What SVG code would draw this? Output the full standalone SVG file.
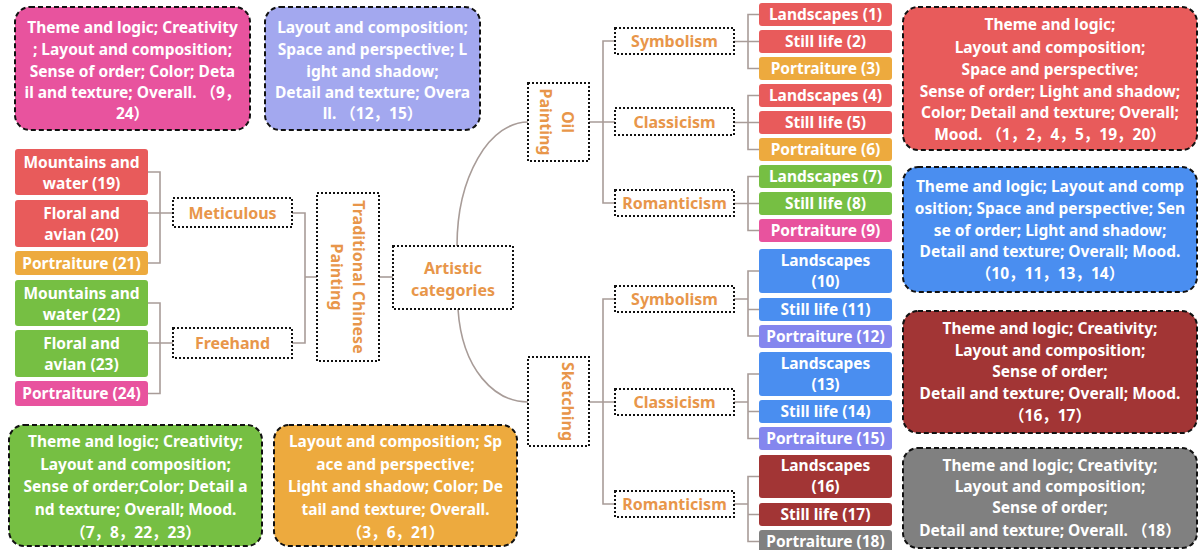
<svg xmlns="http://www.w3.org/2000/svg" width="1198" height="550" viewBox="0 0 1198 550">
<style>
text{font-family:"Noto Sans","Noto Sans CJK SC",sans-serif;font-weight:bold;text-anchor:middle}
.leaf text{fill:#fff;font-size:15.5px}
.box text{fill:#fff;font-size:15.5px}
.lbl text{fill:#E8964A;font-size:16px}
.lbl rect{fill:#fff;stroke:#111;stroke-width:2;stroke-dasharray:2 2}
.box rect{stroke:#111;stroke-width:2;stroke-dasharray:5 3}
.con path{fill:none;stroke:#A89C98;stroke-width:1.6}
.r{fill:#E85B5B}.o{fill:#EDAA3E}.g{fill:#76BF43}.p{fill:#E8539E}.b{fill:#4A8EF0}.v{fill:#8486EE}.d{fill:#A23535}.y{fill:#808080}
</style>
<g class="con">
<path d="M148,172H160V263H148M148,213H173"/>
<path d="M148,303H160V393.5H148M148,343H173"/>
<path d="M292,213H305V343H292M305,277H317"/>
<path d="M379,277H393"/>
<path d="M457,246A71,124 0 0 1 528,122"/>
<path d="M458,309C462,370 495,402 528,402"/>
<path d="M589,122H603M615,41H603V203H615M603,122H615"/>
<path d="M589,402H603M615,299H603V504H615M603,402H615"/>
<path d="M734,41.5H759M759,14.5H748V68.5H759"/>
<path d="M734,122.5H759M759,95.5H748V149.5H759"/>
<path d="M734,203.5H759M759,176.5H748V230.5H759"/>
<path d="M734,299H748M759,271H748V336H759M748,309.5H759"/>
<path d="M734,402H748M759,374H748V438.5H759M748,411.5H759"/>
<path d="M734,504H748M759,476.5H748V541.5H759M748,514.5H759"/>
</g>
<g id="artistic" class="lbl"><rect x="393" y="246" width="120" height="63"/><text x="453" y="274">Artistic</text><text x="453" y="296">categories</text></g>
<g id="tcp" class="lbl"><rect x="317" y="193" width="62" height="168"/><text transform="translate(348,277) rotate(90)" dominant-baseline="central"><tspan x="0" y="-11">Traditional Chinese</tspan><tspan x="0" y="11">Painting</tspan></text></g>
<g id="oil" class="lbl"><rect x="528" y="83" width="61" height="78"/><text transform="translate(557,122) rotate(90)" dominant-baseline="central"><tspan x="0" y="-11">Oil</tspan><tspan x="0" y="11">Painting</tspan></text></g>
<g id="sketching" class="lbl"><rect x="528" y="357" width="61" height="89"/><text transform="translate(568,401.5) rotate(90)" dominant-baseline="central">Sketching</text></g>
<g id="meticulous" class="lbl"><rect x="173" y="198" width="119" height="29"/><text x="232.5" y="219">Meticulous</text></g>
<g id="freehand" class="lbl"><rect x="173" y="328" width="119" height="30"/><text x="232.5" y="349">Freehand</text></g>
<g id="oil-sym" class="lbl"><rect x="615" y="28" width="119" height="26"/><text x="674.5" y="47">Symbolism</text></g>
<g id="oil-cla" class="lbl"><rect x="615" y="108" width="119" height="27"/><text x="674.5" y="128">Classicism</text></g>
<g id="oil-rom" class="lbl"><rect x="615" y="190" width="119" height="26"/><text x="674.5" y="209">Romanticism</text></g>
<g id="sk-sym" class="lbl"><rect x="615" y="286" width="119" height="26"/><text x="674.5" y="305">Symbolism</text></g>
<g id="sk-cla" class="lbl"><rect x="615" y="389" width="119" height="26"/><text x="674.5" y="408">Classicism</text></g>
<g id="sk-rom" class="lbl"><rect x="615" y="491" width="119" height="26"/><text x="674.5" y="510">Romanticism</text></g>
<g id="l19" class="leaf"><rect class="r" x="15" y="149" width="133" height="46" rx="3"/><text x="81.5" y="167.5">Mountains and</text><text x="81.5" y="188.5">water (19)</text></g>
<g id="l20" class="leaf"><rect class="r" x="15" y="200" width="133" height="47" rx="3"/><text x="81.5" y="218.5">Floral and</text><text x="81.5" y="240">avian (20)</text></g>
<g id="l21" class="leaf"><rect class="o" x="15" y="251" width="133" height="24" rx="3"/><text x="81.5" y="268.5">Portraiture (21)</text></g>
<g id="l22" class="leaf"><rect class="g" x="15" y="280" width="133" height="46" rx="3"/><text x="81.5" y="298.5">Mountains and</text><text x="81.5" y="319.5">water (22)</text></g>
<g id="l23" class="leaf"><rect class="g" x="15" y="330" width="133" height="47" rx="3"/><text x="81.5" y="348.5">Floral and</text><text x="81.5" y="370">avian (23)</text></g>
<g id="l24" class="leaf"><rect class="p" x="15" y="381" width="133" height="25" rx="3"/><text x="81.5" y="399">Portraiture (24)</text></g>
<g id="l1" class="leaf"><rect class="r" x="759" y="3" width="133" height="23" rx="3"/><text x="825.5" y="20">Landscapes (1)</text></g>
<g id="l2" class="leaf"><rect class="r" x="759" y="30" width="133" height="23" rx="3"/><text x="825.5" y="47">Still life (2)</text></g>
<g id="l3" class="leaf"><rect class="o" x="759" y="57" width="133" height="23" rx="3"/><text x="825.5" y="74">Portraiture (3)</text></g>
<g id="l4" class="leaf"><rect class="r" x="759" y="84" width="133" height="23" rx="3"/><text x="825.5" y="101">Landscapes (4)</text></g>
<g id="l5" class="leaf"><rect class="r" x="759" y="111" width="133" height="23" rx="3"/><text x="825.5" y="128">Still life (5)</text></g>
<g id="l6" class="leaf"><rect class="o" x="759" y="138" width="133" height="23" rx="3"/><text x="825.5" y="155">Portraiture (6)</text></g>
<g id="l7" class="leaf"><rect class="g" x="759" y="165" width="133" height="23" rx="3"/><text x="825.5" y="182">Landscapes (7)</text></g>
<g id="l8" class="leaf"><rect class="g" x="759" y="192" width="133" height="23" rx="3"/><text x="825.5" y="209">Still life (8)</text></g>
<g id="l9" class="leaf"><rect class="p" x="759" y="219" width="133" height="23" rx="3"/><text x="825.5" y="236">Portraiture (9)</text></g>
<g id="l10" class="leaf"><rect class="b" x="759" y="249" width="133" height="44" rx="3"/><text x="825.5" y="266">Landscapes</text><text x="825.5" y="287">(10)</text></g>
<g id="l11" class="leaf"><rect class="b" x="759" y="298" width="133" height="23" rx="3"/><text x="825.5" y="315">Still life (11)</text></g>
<g id="l12" class="leaf"><rect class="v" x="759" y="325" width="133" height="23" rx="3"/><text x="825.5" y="342">Portraiture (12)</text></g>
<g id="l13" class="leaf"><rect class="b" x="759" y="352" width="133" height="44" rx="3"/><text x="825.5" y="369">Landscapes</text><text x="825.5" y="390">(13)</text></g>
<g id="l14" class="leaf"><rect class="b" x="759" y="400" width="133" height="23" rx="3"/><text x="825.5" y="417">Still life (14)</text></g>
<g id="l15" class="leaf"><rect class="v" x="759" y="427" width="133" height="23" rx="3"/><text x="825.5" y="444">Portraiture (15)</text></g>
<g id="l16" class="leaf"><rect class="d" x="759" y="455" width="133" height="43" rx="3"/><text x="825.5" y="471">Landscapes</text><text x="825.5" y="492">(16)</text></g>
<g id="l17" class="leaf"><rect class="d" x="759" y="503" width="133" height="23" rx="3"/><text x="825.5" y="520">Still life (17)</text></g>
<g id="l18" class="leaf"><rect class="y" x="759" y="530" width="133" height="23" rx="3"/><text x="825.5" y="547">Portraiture (18)</text></g>
<g id="note-pink" class="box"><rect class="p" x="15" y="7" width="235" height="123" rx="15"/><text x="132.5" y="33">Theme and logic; Creativity</text><text x="132.5" y="55">; Layout and composition;</text><text x="132.5" y="77">Sense of order; Color; Deta</text><text x="132.5" y="98">il and texture; Overall. （9，</text><text x="132.5" y="119">24）</text></g>
<g id="note-purple" class="box"><rect fill="#A3A8EF" x="265" y="7" width="215" height="123" rx="15"/><text x="372.5" y="33">Layout and composition;</text><text x="372.5" y="55">Space and perspective; L</text><text x="372.5" y="77">ight and shadow;</text><text x="372.5" y="98">Detail and texture; Overa</text><text x="372.5" y="119">ll. （12，15）</text></g>
<g id="note-red" class="box"><rect class="r" x="903" y="7" width="294" height="143" rx="15"/><text x="1050" y="30">Theme and logic;</text><text x="1050" y="53">Layout and composition;</text><text x="1050" y="75">Space and perspective;</text><text x="1050" y="97">Sense of order; Light and shadow;</text><text x="1050" y="118">Color; Detail and texture; Overall;</text><text x="1050" y="140">Mood. （1，2，4，5，19，20）</text></g>
<g id="note-blue" class="box"><rect class="b" x="903" y="167" width="294" height="125" rx="15"/><text x="1050" y="192">Theme and logic; Layout and comp</text><text x="1050" y="214">osition; Space and perspective; Sen</text><text x="1050" y="236">se of order; Light and shadow;</text><text x="1050" y="257">Detail and texture; Overall; Mood.</text><text x="1050" y="279">（10，11，13，14）</text></g>
<g id="note-darkred" class="box"><rect class="d" x="903" y="311" width="294" height="122" rx="15"/><text x="1050" y="334">Theme and logic; Creativity;</text><text x="1050" y="356">Layout and composition;</text><text x="1050" y="377">Sense of order;</text><text x="1050" y="399">Detail and texture; Overall; Mood.</text><text x="1050" y="421">（16，17）</text></g>
<g id="note-gray" class="box"><rect class="y" x="903" y="448" width="294" height="100" rx="15"/><text x="1050" y="471">Theme and logic; Creativity;</text><text x="1050" y="492">Layout and composition;</text><text x="1050" y="513">Sense of order;</text><text x="1050" y="536">Detail and texture; Overall. （18）</text></g>
<g id="note-green" class="box"><rect class="g" x="9" y="425" width="253" height="121" rx="15"/><text x="135.5" y="447">Theme and logic; Creativity;</text><text x="135.5" y="470">Layout and composition;</text><text x="135.5" y="492">Sense of order;Color; Detail a</text><text x="135.5" y="515">nd texture; Overall; Mood.</text><text x="135.5" y="538">（7，8，22，23）</text></g>
<g id="note-orange" class="box"><rect class="o" x="274" y="425" width="243" height="121" rx="15"/><text x="395.5" y="447">Layout and composition; Sp</text><text x="395.5" y="470">ace and perspective;</text><text x="395.5" y="492">Light and shadow; Color; De</text><text x="395.5" y="515">tail and texture; Overall.</text><text x="395.5" y="538">（3，6，21）</text></g>
</svg>
